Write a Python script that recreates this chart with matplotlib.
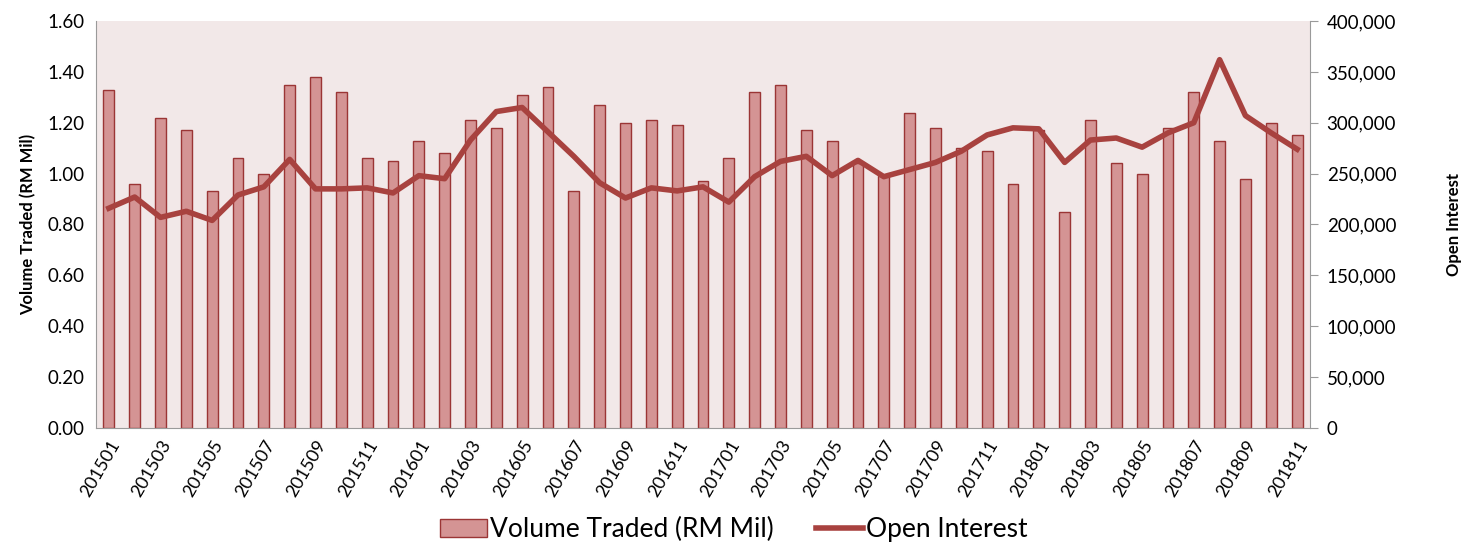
import matplotlib.pyplot as plt
import matplotlib.ticker as mticker

# monthly data, 201501 .. 201811
months = [f"{y}{m:02d}" for y in range(2015, 2019) for m in range(1, 13)][:47]

volume = [1.33, 0.96, 1.22, 1.17, 0.93, 1.06, 1.00, 1.35, 1.38, 1.32,
          1.06, 1.05, 1.13, 1.08, 1.21, 1.18, 1.31, 1.34, 0.93, 1.27,
          1.20, 1.21, 1.19, 0.97, 1.06, 1.32, 1.35, 1.17, 1.13, 1.04,
          0.99, 1.24, 1.18, 1.10, 1.09, 0.96, 1.17, 0.85, 1.21, 1.04,
          1.00, 1.18, 1.32, 1.13, 0.98, 1.20, 1.15]

open_interest = [216000, 227000, 207000, 213000, 204000, 229000, 237000, 264000,
                 235000, 235000, 236000, 231000, 248000, 245000, 283000, 311000,
                 315000, 291000, 267000, 241000, 226000, 236000, 233000, 237000,
                 222000, 247000, 262000, 267000, 248000, 263000, 247000, 254000,
                 261000, 272000, 288000, 295000, 294000, 261000, 283000, 285000,
                 276000, 290000, 300000, 362000, 307000, 290000, 274000]

bar_fill = '#d49494'
bar_edge = '#9b3535'
line_col = '#a8423f'
bg_col = '#f2e8e8'
axis_grey = '#9a9a9a'

plt.rcParams['font.family'] = ['Lato', 'DejaVu Sans']

fig = plt.figure(figsize=(14.67, 5.47), dpi=100)
ax = fig.add_axes([0.0654, 0.2176, 0.8276, 0.744])
ax2 = ax.twinx()

x = list(range(len(months)))
bars = ax.bar(x, volume, width=0.42, color=bar_fill, edgecolor=bar_edge, linewidth=1,
              label='Volume Traded (RM Mil)', zorder=2)
line, = ax2.plot(x, open_interest, color=line_col, lw=4, label='Open Interest',
                 solid_joinstyle='round', zorder=3)

ax.set_facecolor(bg_col)
ax.set_xlim(-0.5, len(months) - 0.5)
ax.set_ylim(0, 1.6)
ax.yaxis.set_major_locator(mticker.MultipleLocator(0.2))
ax.yaxis.set_major_formatter(mticker.FormatStrFormatter('%.2f'))
ax2.set_ylim(0, 400000)
ax2.yaxis.set_major_locator(mticker.MultipleLocator(50000))
ax2.yaxis.set_major_formatter(mticker.FuncFormatter(lambda v, p: f"{int(v):,}"))

ax.set_xticks(x[::2])
ax.set_xticklabels(months[::2], rotation=60, ha='right', rotation_mode='anchor', fontsize=13)
ax.tick_params(axis='x', length=0, pad=7)
ax.tick_params(axis='y', length=0, labelsize=13.5, pad=8)
ax2.tick_params(axis='y', length=6, color=axis_grey, labelsize=13.5, pad=6)

for a in (ax, ax2):
    a.spines['top'].set_visible(False)
ax.spines['right'].set_visible(False)
ax.spines['left'].set_color(axis_grey)
ax.spines['bottom'].set_color(axis_grey)
ax2.spines['left'].set_visible(False)
ax2.spines['bottom'].set_visible(False)
ax2.spines['right'].set_color(axis_grey)

ax.set_ylabel('Volume Traded (RM Mil)', fontsize=12, fontweight='bold', labelpad=8)
ax2.set_ylabel('Open Interest', fontsize=12, fontweight='bold', labelpad=36)

fig.legend([bars, line], ['Volume Traded (RM Mil)', 'Open Interest'], loc='lower center',
           bbox_to_anchor=(0.5, -0.035), ncol=2, frameon=False, fontsize=19,
           handlelength=1.8, handletextpad=0.1, columnspacing=1.6)

fig.savefig('out.png', dpi=100)
